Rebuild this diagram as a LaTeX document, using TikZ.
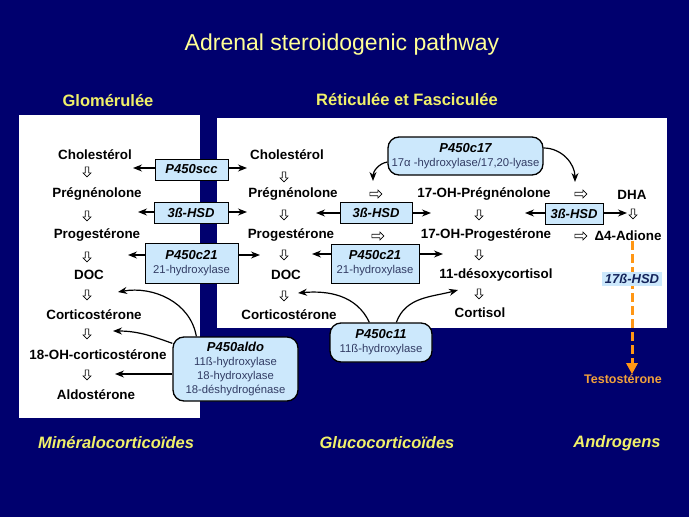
\documentclass[tikz,border=0pt]{standalone}
\usepackage{fontspec}
\setmainfont{Liberation Sans}
\usepackage{tikz}
\usetikzlibrary{arrows.meta,shapes.arrows}
\definecolor{slide}{RGB}{0,0,110}
\definecolor{pale}{RGB}{255,255,150}
\definecolor{heading}{RGB}{240,240,105}
\definecolor{enzfill}{RGB}{204,232,252}
\definecolor{subtext}{RGB}{50,60,100}
\definecolor{andro}{RGB}{255,150,20}
\definecolor{testo}{RGB}{240,160,60}
\definecolor{hsdtext}{RGB}{20,35,90}
\newcommand{\enzsub}[1]{{\mdseries\upshape\fontsize{11.3}{14}\selectfont\color{subtext}#1}}
\tikzstyle{cpd}      = [inner sep=0pt, font=\bfseries\fontsize{13.4}{15}\selectfont]
\tikzstyle{enz}      = [draw=black, line width=1pt, fill=enzfill, inner sep=0pt, minimum height=21pt, align=center, font=\bfseries\itshape\fontsize{13}{14}\selectfont]
\tikzstyle{enzround} = [enz, rounded corners=11pt, line width=1.3pt]
\tikzstyle{down}     = [single arrow, draw=black, fill=white, line width=0.6pt, shape border rotate=270, inner sep=1.3pt, minimum height=10pt, minimum width=8pt, single arrow head extend=2pt]
\tikzstyle{across}   = [down, shape border rotate=0, minimum height=12pt]
\tikzstyle{arrow}    = [line width=1.2pt, -{Stealth[length=9pt,width=7pt]}]
\tikzstyle{zone}     = [inner sep=0pt, text=heading, font=\bfseries\fontsize{16.5}{18}\selectfont]
\tikzstyle{group}    = [inner sep=0pt, text=heading, font=\bfseries\itshape\fontsize{16.5}{18}\selectfont]

\begin{document}
\begin{tikzpicture}[x=1pt,y=-1pt]
    \fill[slide] (0,0) rectangle (689,517);
    \fill[white] (19,115) rectangle (200,418);
    \fill[white] (217,118) rectangle (667,328);

    \node[inner sep=0pt, text=pale, font=\fontsize{23}{25}\selectfont] (title) at (342,45) {Adrenal steroidogenic pathway};
    \node[zone] (glom) at (108,101) {Glomérulée};
    \node[zone] (retfas) at (407,100) {Réticulée et Fasciculée};

    % glomerulee column
    \node[cpd] (chol1) at (95,155) {Cholestérol};
    \node[cpd] (preg1) at (97,194) {Prégnénolone};
    \node[cpd] (prog1) at (97,235) {Progestérone};
    \node[cpd] (doc1)  at (89,275) {DOC};
    \node[cpd] (cort1) at (94,315) {Corticostérone};
    \node[cpd] (ohc1)  at (98,355) {18-OH-corticostérone};
    \node[cpd] (aldo1) at (96,395) {Aldostérone};
    \foreach \y [count=\i] in {171,215,256,294,333,374}
        \node[down] (dl\i) at (87,\y) {};

    % reticulee et fasciculee columns
    \node[cpd] (chol2) at (287,155) {Cholestérol};
    \node[cpd] (preg2) at (293,194) {Prégnénolone};
    \node[cpd] (prog2) at (291,235) {Progestérone};
    \node[cpd] (doc2)  at (286,275) {DOC};
    \node[cpd] (cort2) at (289,315) {Corticostérone};
    \foreach \y [count=\i] in {176,214,254,295}
        \node[down] (dm\i) at (284,\y) {};

    \node[cpd] (ohpreg)   at (484,194) {17-OH-Prégnénolone};
    \node[cpd] (ohprog)   at (486,235) {17-OH-Progestérone};
    \node[cpd] (desoxy)   at (496,275) {11-désoxycortisol};
    \node[cpd] (cortisol) at (480,313) {Cortisol};
    \foreach \y [count=\i] in {214,254,293}
        \node[down] (dr\i) at (479,\y) {};

    \node[cpd] (dha)    at (632,195) {DHA};
    \node[cpd] (adione) at (628,236) {Δ4-Adione};
    \node[down] (dd1) at (633,213) {};

    \node[across] (ra1) at (375,194) {};
    \node[across] (ra2) at (580,194) {};
    \node[across] (ra3) at (377,236) {};
    \node[across] (ra4) at (580,236) {};

    % androgen branch
    \node[cpd, text=testo, font=\bfseries\fontsize{12.5}{14}\selectfont] (testo) at (623,379) {Testostérone};
    \coordinate (hsdpos) at (632,278.5);
    \draw[andro, line width=3pt, dash pattern=on 9pt off 4pt, -{Triangle[length=11pt,width=11pt]}]
        (adione.south -| hsdpos) -- (testo.north -| hsdpos);
    \node[fill=enzfill, inner sep=0pt, minimum width=60pt, minimum height=14pt, text=hsdtext,
          font=\bfseries\itshape\fontsize{13}{14}\selectfont] (hsd17) at (hsdpos) {17ß-HSD};

    % enzymes
    \node[enz, minimum width=73pt] (scc)  at (191.5,169.5) {P450scc};
    \node[enz, minimum width=74pt] (hsd1) at (191,212.5) {3ß-HSD};
    \node[enz, minimum width=93pt, minimum height=40pt] (c21a) at (191.5,263) {P450c21\\\enzsub{21-hydroxylase}};
    \node[enz, minimum width=72pt] (hsd2) at (376,212.5) {3ß-HSD};
    \node[enz, minimum width=88pt, minimum height=39pt] (c21b) at (375,263.5) {P450c21\\\enzsub{21-hydroxylase}};
    \node[enz, minimum width=58pt] (hsd3) at (574,213.5) {3ß-HSD};
    \node[enzround, minimum width=155pt, minimum height=38pt] (c17) at (465.5,156) {P450c17\\\enzsub{17α -hydroxylase/17,20-lyase}};
    \node[enzround, minimum width=102pt, minimum height=39pt] (c11) at (381,342.5) {P450c11\\\enzsub{11ß-hydroxylase}};
    \node[enzround, minimum width=125pt, minimum height=64pt] (p450aldo) at (235.5,369) {P450aldo\\\enzsub{11ß-hydroxylase}\\\enzsub{18-hydroxylase}\\\enzsub{18-déshydrogénase}};

    % enzyme arrows
    \coordinate (sccL) at (133,168);   \coordinate (sccR) at (247,168);
    \coordinate (hsd1L) at (138,212);  \coordinate (hsd1R) at (247,212);
    \coordinate (c21aL) at (128,255);  \coordinate (c21aR) at (260,255);
    \coordinate (hsd2L) at (316,213);  \coordinate (hsd2R) at (431,213);
    \coordinate (c21bL) at (312,254);  \coordinate (c21bR) at (443,254);
    \coordinate (hsd3L) at (525,213);  \coordinate (hsd3R) at (627,213);
    \draw[arrow] (scc.west |- sccL) -- (sccL);
    \draw[arrow] (scc.east |- sccR) -- (sccR);
    \draw[arrow] (hsd1.west |- hsd1L) -- (hsd1L);
    \draw[arrow] (hsd1.east |- hsd1R) -- (hsd1R);
    \draw[arrow] (c21a.west |- c21aL) -- (c21aL);
    \draw[arrow] (c21a.east |- c21aR) -- (c21aR);
    \draw[arrow] (hsd2.west |- hsd2L) -- (hsd2L);
    \draw[arrow] (hsd2.east |- hsd2R) -- (hsd2R);
    \draw[arrow] (c21b.west |- c21bL) -- (c21bL);
    \draw[arrow] (c21b.east |- c21bR) -- (c21bR);
    \draw[arrow] (hsd3.west |- hsd3L) -- (hsd3L);
    \draw[arrow] (hsd3.east |- hsd3R) -- (hsd3R);

    \coordinate (c17L) at (373,181);  \coordinate (c17R) at (575,182);
    \draw[arrow] ([yshift=-6pt]c17.west) to[out=190,in=90] (c17L);
    \draw[arrow] ([yshift=8pt]c17.east) to[out=0,in=90] (c17R);

    \coordinate (c11L) at (298,293);  \coordinate (c11R) at (458,290);
    \draw[arrow] ([xshift=40pt]c11.north west) to[out=115,in=5] (c11L);
    \draw[arrow] ([xshift=67pt]c11.north west) to[out=70,in=195] (c11R);

    \coordinate (ald1) at (118,292);  \coordinate (ald2) at (113,331);  \coordinate (ald3) at (115,374);
    \draw[arrow] ([xshift=24pt]p450aldo.north west) to[out=100,in=10] (ald1);
    \draw[arrow] ([yshift=-7pt]p450aldo.north west) to[out=160,in=0] (ald2);
    \draw[arrow] (p450aldo.west |- ald3) -- (ald3);

    % hormone groups
    \node[group] (mineral) at (116,443) {Minéralocorticoïdes};
    \node[group] (gluco)   at (387,443) {Glucocorticoïdes};
    \node[group] (androg)  at (617,443) {Androgens};
\end{tikzpicture}
\end{document}
